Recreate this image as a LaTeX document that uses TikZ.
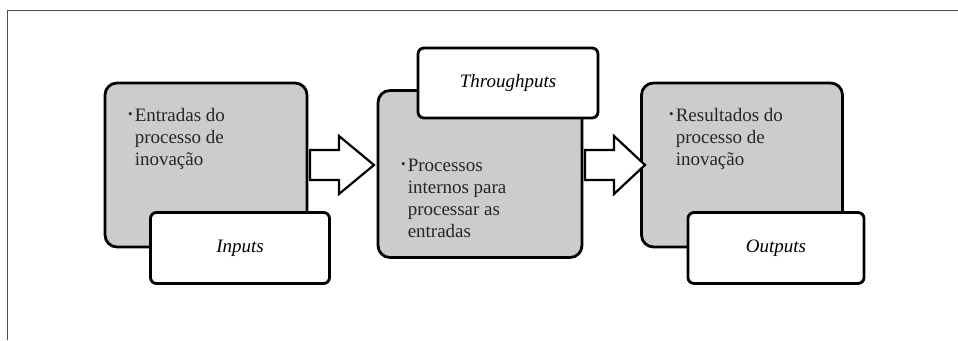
\documentclass[tikz,border=0pt]{standalone}
\usepackage{fontspec}
\setmainfont{Liberation Serif}
\usetikzlibrary{arrows}

\newcommand{\pt}{{\fontsize{13}{13}\selectfont\raisebox{3pt}{\textbullet}}}

\begin{document}
\begin{tikzpicture}[x=1pt,y=-1pt,font=\fontsize{19}{22}\selectfont,
    graybox/.style={draw,line width=2.8pt,rounded corners=12pt,fill=black!20,inner sep=0pt},
    labelbox/.style={draw,line width=2.8pt,rounded corners=6pt,fill=white,inner sep=0pt,font=\fontsize{19}{22}\selectfont\itshape},
    bodytext/.style={anchor=base west,inner sep=0pt,text=black!85},
    bigarrow/.style={draw,line width=2.2pt,fill=white,line join=miter}]
	\useasboundingbox (0,0) rectangle (958,340);
	% frame
	\draw[black!70,line width=1pt] (958,10) -- (7,10) -- (7,340);
	% the three stages
	\foreach \name/\cx/\cy/\w/\h in {inbox/206/165/202/164, thbox/480/174/204/167, outbox/742/165/201/164} {
		\node[graybox,minimum width=\w,minimum height=\h] (\name) at (\cx,\cy) {};
	}
	\node[bodytext] (intext) at (128,121) {\begin{tabular}[t]{@{}l@{\hspace{2pt}}l@{}}\pt & Entradas do\\ & processo de\\ & inovação\end{tabular}};
	\node[bodytext] (thtext) at (401,171) {\begin{tabular}[t]{@{}l@{\hspace{2pt}}l@{}}\pt & Processos\\ & internos para\\ & processar as\\ & entradas\end{tabular}};
	\node[bodytext] (outtext) at (669,121) {\begin{tabular}[t]{@{}l@{\hspace{2pt}}l@{}}\pt & Resultados do\\ & processo de\\ & inovação\end{tabular}};
	% labels
	\node[labelbox,minimum width=179,minimum height=71] (inputs) at (240,248) {Inputs};
	\node[labelbox,minimum width=180,minimum height=70] (throughputs) at (508,83) {Throughputs};
	\node[labelbox,minimum width=176,minimum height=71] (outputs) at (776,248) {Outputs};
	% block arrows
	\foreach \xs/\sh/\hd in {310/29/35, 585/29/31} {
		\draw[bigarrow] (\xs,150) -- ++(\sh,0) -- ++(0,-14) -- ++(\hd,29) -- ++(-\hd,29) -- ++(0,-14) -- ++(-\sh,0) -- cycle;
	}
\end{tikzpicture}
\end{document}
